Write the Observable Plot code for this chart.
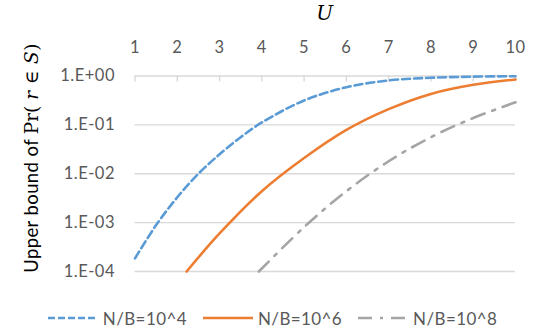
<!DOCTYPE html>
<html><head><meta charset="utf-8">
<script src="https://cdn.jsdelivr.net/npm/d3@7"></script>
<script src="https://cdn.jsdelivr.net/npm/@observablehq/plot@0.6"></script>
<style>
body{margin:0;background:#fff;}
#chart{width:545px;height:336px;position:relative;font-family:Lato,sans-serif;color:#595959;overflow:hidden;}
#legend{position:absolute;left:0;top:300px;width:545px;height:36px;display:flex;justify-content:center;align-items:center;font-size:17px;letter-spacing:0.4px;color:#595959;}
.item{display:flex;align-items:center;margin:0 8px;}
.item svg{margin-right:5px;}
#chart svg g[aria-label="x-axis tick label"] text, #chart svg g[aria-label="y-axis tick label"] text{letter-spacing:0.5px;}
</style></head><body><div id="chart"></div>
<script>
const uTicks = [1,2,3,4,5,6,7,8,9,10];
const yTicks = [1,0.1,0.01,0.001,0.0001];
const yTickLabels = ["1.E+00","1.E-01","1.E-02","1.E-03","1.E-04"];
const seriesNames = ["N/B=10^4","N/B=10^6","N/B=10^8"];
const seriesColors = ["#5B9BD5","#ED7D31","#A5A5A5"];
const seriesDash = ["8,4",null,"14,8,3,8"];

const uBlue   = [1, 1.5, 2, 2.5, 3, 3.5, 4, 5, 6, 7, 8, 9, 10];
const pBlue   = [1.86e-4, 8.9e-4, 3.3e-3, 1.0e-2, 2.5e-2, 5.6e-2, 0.112, 0.316, 0.59, 0.81, 0.92, 0.97, 0.99];
const uOrange = [2.22, 3, 4, 5, 6, 7, 8, 9, 10];
const pOrange = [1e-4, 6.0e-4, 4.4e-3, 2.1e-2, 7.9e-2, 0.21, 0.43, 0.66, 0.85];
const uGray   = [3.93, 4, 5, 6, 7, 8, 9, 10];
const pGray   = [1e-4, 1.15e-4, 8.1e-4, 4.4e-3, 1.8e-2, 5.6e-2, 0.138, 0.29];

const seriesU = [uBlue, uOrange, uGray];
const seriesP = [pBlue, pOrange, pGray];
const rows = [];
seriesNames.forEach((name, i) => {
  seriesU[i].forEach((u, j) => rows.push({series: name, u, p: seriesP[i][j]}));
});

const lineMarks = seriesNames.map((name, i) => Plot.line(rows.filter(d => d.series === name), {
  x: "u", y: "p", stroke: seriesColors[i], strokeWidth: 2.6,
  strokeDasharray: seriesDash[i] || undefined, curve: "catmull-rom"
}));

const chart = Plot.plot({
  width: 545, height: 300,
  marginTop: 75.5, marginBottom: 29, marginLeft: 134.5, marginRight: 30,
  style: {fontFamily: "Lato, sans-serif", fontSize: "16.5px", color: "#595959", background: "#fff"},
  x: {domain: [1, 10], axis: "top", ticks: uTicks, tickSize: 0, tickPadding: 23, label: null},
  y: {type: "log", domain: [1e-4, 1], ticks: yTicks, tickSize: 0, tickPadding: 20,
      tickFormat: d => yTickLabels[yTicks.indexOf(d)], label: null},
  marks: [
    Plot.ruleY(yTicks, {y: d => d, stroke: "#D9D9D9", strokeWidth: 1.4}),
    Plot.ruleX(uTicks, {x: d => d, y1: 1, y2: 1, insetBottom: -6, stroke: "#D9D9D9", strokeWidth: 1.4}),
    ...lineMarks
  ]
});
chart.style.position = "absolute";
chart.style.left = "0px";
chart.style.top = "0px";
document.getElementById("chart").appendChild(chart);

const svg = d3.select(chart);
// x-axis title
svg.append("text")
  .attr("x", (134.5 + 515) / 2).attr("y", 20)
  .attr("text-anchor", "middle")
  .attr("fill", "#000")
  .style("font-family", "'DejaVu Serif', serif").style("font-style", "italic").style("font-size", "20px")
  .text("U");
// y-axis title
const yt = svg.append("text")
  .attr("transform", "translate(38,158) rotate(-90)")
  .attr("text-anchor", "middle")
  .attr("fill", "#000")
  .style("font-family", "Lato, sans-serif").style("font-size", "18.5px").style("letter-spacing", "0.4px");
yt.append("tspan").text("Upper bound of ");
const serif = "'DejaVu Serif', serif";
yt.append("tspan").style("font-family", serif).style("letter-spacing", "0px").text("Pr( ");
yt.append("tspan").style("font-family", serif).style("font-style", "italic").text("r");
yt.append("tspan").style("font-family", serif).text(" ∈ ");
yt.append("tspan").style("font-family", serif).style("font-style", "italic").text("S");
yt.append("tspan").style("font-family", serif).text(")");

// legend
const legend = d3.select("#chart").append("div").attr("id", "legend");
seriesNames.forEach((name, i) => {
  const it = legend.append("div").attr("class", "item");
  const s = it.append("svg").attr("width", 50).attr("height", 6);
  s.append("line").attr("x1", 0).attr("x2", 50).attr("y1", 3).attr("y2", 3)
    .attr("stroke", seriesColors[i]).attr("stroke-width", 2.6)
    .attr("stroke-dasharray", i === 0 ? "7,3" : seriesDash[i]);
  it.append("span").text(name);
});
</script></body></html>
